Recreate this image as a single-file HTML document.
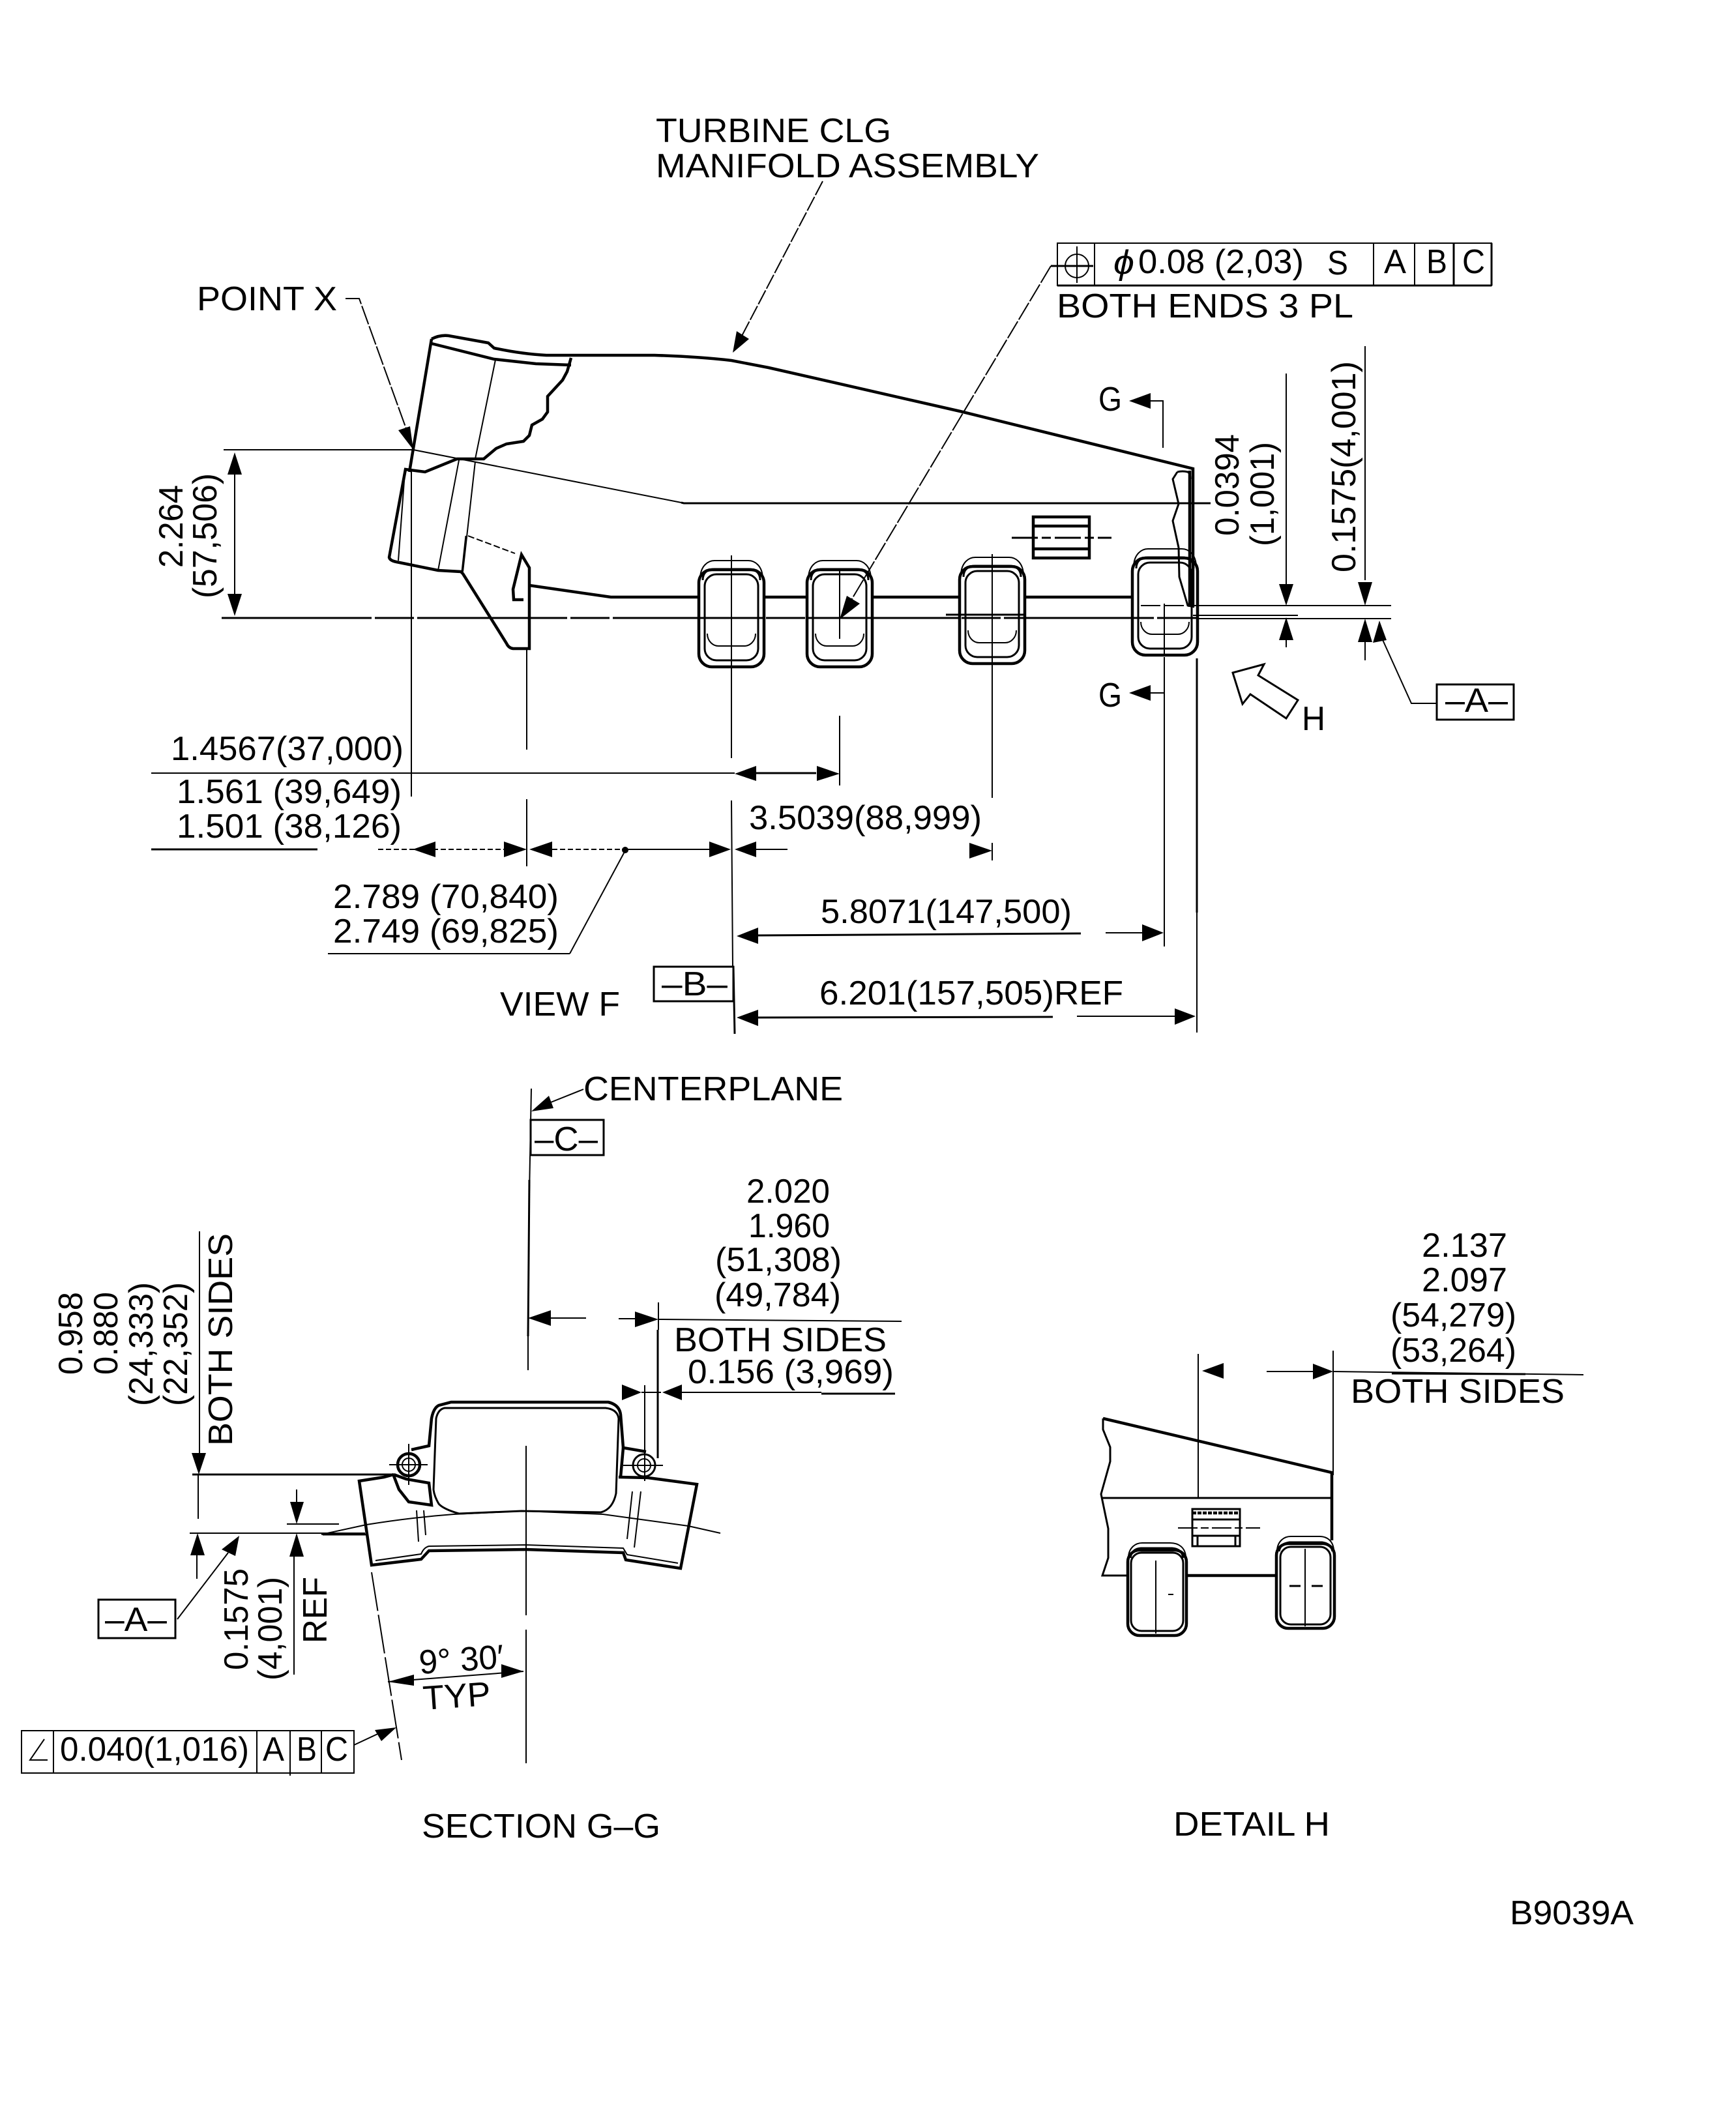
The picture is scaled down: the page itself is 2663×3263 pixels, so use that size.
<!DOCTYPE html>
<html><head><meta charset="utf-8"><title>Turbine CLG Manifold Assembly</title>
<style>
html,body{margin:0;padding:0;background:#fff;width:2663px;height:3263px;overflow:hidden}
svg{display:block}
text{font-family:"Liberation Sans",sans-serif;font-size:52px;fill:#000}
.t{fill:none;stroke:#000;stroke-width:2}
.m{fill:none;stroke:#000;stroke-width:3}
.h{fill:none;stroke:#000;stroke-width:4.5}
.d{stroke-dasharray:14 5}
.c{stroke-dasharray:230 5 60 5}
polygon.a{fill:#000;stroke:none}
</style></head><body>
<svg xmlns="http://www.w3.org/2000/svg" width="2663" height="3263" viewBox="0 0 2663 3263">
<defs>
<g id="pad">
<rect class="h" x="-50" y="14" width="100" height="149" rx="20" fill="#fff"/>
<path class="t" d="M-48,26 C-47,8 -36,0 -26,0 H26 C36,0 47,8 48,26"/>
<path class="m" d="M-44,30 C-44,18 -36,13 -26,13 H26 C36,13 44,18 44,30"/>
<rect class="m" x="-41" y="21" width="82" height="132" rx="18"/>
<path class="t" d="M-37,112 C-37,124 -28,131 -20,131 H20 C28,131 37,124 37,112"/>
</g>
</defs>

<!-- TOP TITLE -->
<text x="1006" y="218" textLength="361" lengthAdjust="spacingAndGlyphs">TURBINE CLG</text>
<text x="1006" y="272" textLength="588" lengthAdjust="spacingAndGlyphs">MANIFOLD ASSEMBLY</text>
<path class="t" stroke-dasharray="24 3" d="M1262,278 L1125,540"/>
<polygon class="a" points="1124,541 1130,508 1149,520"/>

<text x="302" y="476" textLength="215" lengthAdjust="spacingAndGlyphs">POINT X</text>
<path class="t" d="M530,458 H551 L634,688" stroke-dasharray="30 3"/>
<polygon class="a" points="634,690 611,660 629,654"/>

<!-- MAIN VIEW BODY -->
<use href="#pad" x="1122" y="860"/>
<use href="#pad" x="1288" y="860"/>
<use href="#pad" x="1522" y="855"/>
<use href="#pad" x="1787" y="842"/>
<path class="h" d="M662,520 C672,515 680,514 688,515 L749,526 L758,534 Q800,543 838,545 L1004,545 Q1070,547 1122,553 L1179,564 L1473,631 L1830,719 V931"/>
<path class="h" d="M662,520 L628,724"/>
<path class="h" d="M662,527 L758,551 L822,558 L876,560"/>
<path class="h" d="M876,549 L870,570 L863,583 L840,608 L840,632 L832,643 L816,652 L812,668 L803,677 L777,681 L761,688 L742,704 L701,704 L652,724 L622,720 L597,855 Q598,860 608,862 L672,875 L707,877 L710,880 L777,987 Q780,994 787,995 H812 V871 L800,851 L787,904 L788,920 H803"/>
<path class="t" d="M760,552 L729,704 M704,706 L672,875 M729,708 L710,877 M621,724 L611,860"/>
<path class="m" d="M715,822 L709,877"/>
<path class="t" stroke-dasharray="10 4" d="M718,822 L790,849"/>
<path class="h" d="M812,898 L937,916 H1071 M1173,916 H1237 M1339,916 H1473 M1571,916 H1737"/>
<path class="h" d="M1825,722 V931"/>
<path class="m" d="M1806,724 Q1814,722 1822,724 Q1826,726 1826,735 M1806,724 L1799,735 L1808,773 L1799,799 L1808,840 L1809,885 L1822,929 L1832,931"/>

<!-- bracket -->
<rect class="h" x="1585" y="793" width="86" height="63"/>
<path class="h" d="M1585,807 H1671 M1585,842 H1671"/>
<path class="m" stroke-dasharray="40 6 14 6" d="M1552,825 H1705"/>

<!-- centre lines through the body -->
<path class="m c" d="M340,948 H1839"/>
<path class="t" d="M343,690 H634 L1045,771"/>
<path class="m" d="M1045,771 L1049,772 H1857"/>
<path class="m" d="M1451,943 H1571"/>
<path class="t" d="M1830,944 H1991 M1830,929 H2134 M1839,949 H2134"/>
<path class="t" stroke-dasharray="30 6" d="M1750,929 H1830"/>

<!-- 2.264 dim -->
<path class="t" d="M360,720 V920"/>
<polygon class="a" points="360,694 349,728 371,728"/>
<polygon class="a" points="360,945 349,911 371,911"/>
<text transform="translate(280,871) rotate(-90)" textLength="127" lengthAdjust="spacingAndGlyphs">2.264</text>
<text transform="translate(332,918) rotate(-90)" textLength="192" lengthAdjust="spacingAndGlyphs">(57,506)</text>

<!-- feature control frame top -->
<rect class="t" x="1622" y="373" width="666" height="65"/>
<path class="t" d="M1679,373 V438 M2107,373 V438 M2170,373 V438"/>
<path class="m" d="M2230,373 V438 M2288,373 V438 M1622,438 H2288"/>
<circle class="t" cx="1652" cy="408" r="18"/>
<path class="t" d="M1652,378 V434"/>
<path class="m" d="M1612,408 H1677"/>
<text x="1708" y="420" font-style="italic" textLength="32" lengthAdjust="spacingAndGlyphs">ϕ</text>
<text x="1746" y="419" textLength="254" lengthAdjust="spacingAndGlyphs">0.08 (2,03)</text>
<text x="2036" y="421" textLength="32" lengthAdjust="spacingAndGlyphs">S</text>
<text x="2123" y="419" textLength="34" lengthAdjust="spacingAndGlyphs">A</text>
<text x="2188" y="419" textLength="32" lengthAdjust="spacingAndGlyphs">B</text>
<text x="2243" y="419" textLength="35" lengthAdjust="spacingAndGlyphs">C</text>
<text x="1621" y="487" textLength="455" lengthAdjust="spacingAndGlyphs">BOTH ENDS 3 PL</text>
<path class="t" stroke-dasharray="30 3" d="M1612,408 L1290,947"/>
<polygon class="a" points="1288,950 1299,914 1319,926"/>

<!-- G arrows -->
<text x="1685" y="630" textLength="36" lengthAdjust="spacingAndGlyphs">G</text>
<polygon class="a" points="1732,615 1765,603 1765,627"/>
<path class="t" d="M1765,615 H1784 V687"/>
<text x="1685" y="1084" textLength="36" lengthAdjust="spacingAndGlyphs">G</text>
<polygon class="a" points="1732,1063 1765,1051 1765,1075"/>
<path class="t" d="M1765,1063 H1786"/>

<!-- right vertical dims -->
<text transform="translate(1900,822) rotate(-90)" textLength="156" lengthAdjust="spacingAndGlyphs">0.0394</text>
<text transform="translate(1954,838) rotate(-90)" textLength="160" lengthAdjust="spacingAndGlyphs">(1,001)</text>
<text transform="translate(2079,878) rotate(-90)" textLength="324" lengthAdjust="spacingAndGlyphs">0.1575(4,001)</text>
<path class="t" d="M1973,573 V905 M1973,970 V993 M2094,531 V890 M2094,970 V1013"/>
<polygon class="a" points="1973,929 1962,896 1984,896"/>
<polygon class="a" points="1973,947 1962,982 1984,982"/>
<polygon class="a" points="2094,929 2083,893 2105,893"/>
<polygon class="a" points="2094,949 2083,985 2105,985"/>
<polygon class="a" points="2116,952 2106,986 2127,982"/>
<path class="t" d="M2118,975 L2165,1079 H2204"/>
<rect class="m" x="2204" y="1050" width="118" height="54"/>
<text x="2217" y="1092" textLength="96" lengthAdjust="spacingAndGlyphs">–A–</text>

<!-- H arrow -->
<polygon class="m" points="1891,1032 1939,1019 1930,1036 1991,1074 1973,1102 1918,1065 1906,1080"/>
<text x="1997" y="1120" textLength="36" lengthAdjust="spacingAndGlyphs">H</text>

<!-- extension lines -->
<path class="t" d="M631,720 V1222"/>
<path class="t" d="M808,996 V1150 M808,1226 V1329"/>
<path class="t" d="M1122,852 V1163 M1122,1228 L1124,1482"/>
<path class="m" d="M1125,1482 L1127,1586"/>
<path class="t" d="M1288,872 V980 M1288,1098 V1205"/>
<path class="t" d="M1522,850 V1224 M1522,1293 V1320"/>
<path class="t" d="M1786,926 V1005 M1786,1008 V1452"/>
<path class="m" d="M1836,1010 V1400"/>
<path class="t" d="M1836,1400 V1584"/>

<!-- lower dims main view -->
<text x="262" y="1166" textLength="357" lengthAdjust="spacingAndGlyphs">1.4567(37,000)</text>
<path class="t" d="M232,1186 H1127"/>
<path class="m" d="M1160,1186 H1252"/>
<polygon class="a" points="1127,1187 1160,1175 1160,1198"/>
<polygon class="a" points="1288,1187 1253,1175 1253,1198"/>
<text x="271" y="1232" textLength="345" lengthAdjust="spacingAndGlyphs">1.561 (39,649)</text>
<text x="271" y="1285" textLength="345" lengthAdjust="spacingAndGlyphs">1.501 (38,126)</text>
<path class="m" d="M232,1303 H487"/>
<path class="t" stroke-dasharray="8 4" d="M580,1303 H775 M847,1303 H954"/>
<path class="t" d="M954,1303 H1089 M1160,1303 H1208"/>
<polygon class="a" points="633,1303 668,1291 668,1315"/>
<polygon class="a" points="808,1303 773,1291 773,1315"/>
<polygon class="a" points="812,1303 847,1291 847,1315"/>
<polygon class="a" points="1121,1303 1088,1291 1088,1315"/>
<polygon class="a" points="1127,1303 1160,1291 1160,1315"/>
<polygon class="a" points="1522,1305 1487,1293 1487,1317"/>
<text x="1149" y="1272" textLength="357" lengthAdjust="spacingAndGlyphs">3.5039(88,999)</text>
<circle cx="959" cy="1304" r="5" fill="#000"/>
<path class="t" d="M959,1305 L874,1463"/>
<path class="t" d="M874,1463 H503"/>
<text x="511" y="1393" textLength="346" lengthAdjust="spacingAndGlyphs">2.789 (70,840)</text>
<text x="511" y="1446" textLength="346" lengthAdjust="spacingAndGlyphs">2.749 (69,825)</text>
<text x="1259" y="1416" textLength="385" lengthAdjust="spacingAndGlyphs">5.8071(147,500)</text>
<path class="m" d="M1160,1435 L1658,1432"/>
<path class="t" d="M1696,1431 H1755"/>
<polygon class="a" points="1130,1436 1163,1423 1163,1448"/>
<polygon class="a" points="1785,1431 1752,1418 1752,1444"/>
<rect class="m" x="1003" y="1483" width="122" height="53"/>
<text x="1015" y="1527" textLength="101" lengthAdjust="spacingAndGlyphs">–B–</text>
<text x="767" y="1558" textLength="184" lengthAdjust="spacingAndGlyphs">VIEW F</text>
<text x="1257" y="1541" textLength="466" lengthAdjust="spacingAndGlyphs">6.201(157,505)REF</text>
<path class="m" d="M1160,1561 L1615,1560"/>
<path class="t" d="M1652,1559 H1805"/>
<polygon class="a" points="1130,1561 1163,1549 1163,1574"/>
<polygon class="a" points="1834,1559 1802,1547 1802,1572"/>

<!-- SECTION G-G header -->
<text x="895" y="1688" textLength="398" lengthAdjust="spacingAndGlyphs">CENTERPLANE</text>
<path class="t" d="M895,1671 L840,1693"/>
<polygon class="a" points="815,1705 842,1681 849,1700"/>
<path class="t" d="M815,1670 L812,1830"/>
<path class="m" d="M812,1810 L810,2050"/>
<path class="t" d="M810,2050 V2102 M807,2218 V2478 M807,2500 V2705"/>
<rect class="m" x="814" y="1718" width="112" height="54"/>
<text x="820" y="1765" textLength="97" lengthAdjust="spacingAndGlyphs">–C–</text>
<text x="1145" y="1845" textLength="128" lengthAdjust="spacingAndGlyphs">2.020</text>
<text x="1148" y="1898" textLength="125" lengthAdjust="spacingAndGlyphs">1.960</text>
<text x="1097" y="1950" textLength="194" lengthAdjust="spacingAndGlyphs">(51,308)</text>
<text x="1096" y="2004" textLength="194" lengthAdjust="spacingAndGlyphs">(49,784)</text>
<text x="1034" y="2073" textLength="326" lengthAdjust="spacingAndGlyphs">BOTH SIDES</text>
<text x="1055" y="2122" textLength="316" lengthAdjust="spacingAndGlyphs">0.156 (3,969)</text>
<path class="t" d="M845,2022 H899 M949,2023 H974"/>
<polygon class="a" points="810,2022 845,2010 845,2034"/>
<polygon class="a" points="1010,2024 974,2012 974,2036"/>
<path class="t" d="M1010,2024 L1383,2027"/>
<path class="t" d="M1010,1998 V2040"/>
<path class="m" d="M1009,2040 V2237"/>
<path class="t" d="M989,2125 V2272"/>
<polygon class="a" points="984,2136 954,2124 954,2148"/>
<polygon class="a" points="1016,2136 1046,2124 1046,2148"/>
<path class="t" d="M984,2136 H1014"/>
<path class="t" d="M1046,2136 H1260"/>
<path class="m" d="M1260,2138 H1373"/>

<!-- SECTION SHAPE -->
<path class="h" d="M631,2224 L658,2218 L662,2176 Q665,2160 673,2156 L692,2151 H933 Q950,2155 952,2170 L956,2221 L991,2227"/>
<path class="m" d="M669,2176 Q672,2162 682,2160 H929 Q947,2162 949,2176 L945,2291 Q940,2315 922,2320 L800,2318 L704,2322 Q680,2315 673,2307 Q666,2295 665,2285 Z"/>
<path class="h" d="M956,2221 L952,2266 L949,2266 L994,2267 L1069,2277 L1044,2406 L960,2393 L956,2382 L807,2377 L658,2379 L646,2392 L570,2401 L551,2272 L589,2266 L604,2262"/>
<path class="t" d="M576,2394 L646,2384 Q650,2374 658,2372 L807,2370 L956,2375 L962,2385 L1040,2398"/>
<path class="h" d="M604,2264 L612,2285 L627,2304 L662,2309 L658,2275 L623,2269 L604,2262"/>
<circle class="h" cx="627" cy="2247" r="17" fill="#fff"/>
<circle class="t" cx="627" cy="2247" r="10"/>
<path class="t" d="M627,2215 V2278 M597,2247 H656"/>
<circle class="m" cx="988" cy="2248" r="17" fill="#fff"/>
<circle class="t" cx="988" cy="2248" r="10"/>
<path class="t" d="M956,2248 H1017 M989,2215 V2272"/>
<path class="t" d="M493,2354 L562,2339 Q630,2328 696,2323 L803,2318 L925,2323 L1056,2341 L1105,2352"/>
<path class="t" d="M639,2317 L642,2365 M650,2317 L653,2355 M970,2288 L962,2361 M983,2288 L973,2374"/>

<!-- section left dims -->
<text transform="translate(126,2109) rotate(-90)" textLength="127" lengthAdjust="spacingAndGlyphs">0.958</text>
<text transform="translate(180,2109) rotate(-90)" textLength="127" lengthAdjust="spacingAndGlyphs">0.880</text>
<text transform="translate(234,2157) rotate(-90)" textLength="190" lengthAdjust="spacingAndGlyphs">(24,333)</text>
<text transform="translate(287,2157) rotate(-90)" textLength="190" lengthAdjust="spacingAndGlyphs">(22,352)</text>
<text transform="translate(356,2218) rotate(-90)" textLength="326" lengthAdjust="spacingAndGlyphs">BOTH SIDES</text>
<path class="t" d="M306,1889 V2230"/>
<polygon class="a" points="305,2262 294,2229 316,2229"/>
<path class="m" d="M295,2262 H604"/>
<path class="t" d="M304,2262 V2330"/>
<path class="t" d="M291,2352 H560"/>
<path class="m" d="M495,2354 H562"/>
<polygon class="a" points="303,2352 292,2386 314,2386"/>
<path class="t" d="M302,2386 V2422"/>
<path class="t" d="M440,2338 H520 M455,2285 V2310"/>
<polygon class="a" points="455,2338 445,2304 466,2304"/>
<polygon class="a" points="455,2352 444,2388 466,2388"/>
<path class="t" d="M451,2388 V2569"/>
<polygon class="a" points="367,2356 340,2377 361,2387"/>
<path class="t" d="M350,2382 L272,2484"/>
<rect class="m" x="151" y="2454" width="118" height="59"/>
<text x="161" y="2502" textLength="95" lengthAdjust="spacingAndGlyphs">–A–</text>
<text transform="translate(380,2562) rotate(-90)" textLength="156" lengthAdjust="spacingAndGlyphs">0.1575</text>
<text transform="translate(432,2578) rotate(-90)" textLength="159" lengthAdjust="spacingAndGlyphs">(4,001)</text>
<text transform="translate(501,2521) rotate(-90)" textLength="102" lengthAdjust="spacingAndGlyphs">REF</text>

<!-- angle dim -->
<path class="t" stroke-dasharray="60 6" d="M570,2412 L616,2700"/>
<path class="t" d="M595,2580 L803,2564"/>
<polygon class="a" points="595,2580 635,2569 635,2586"/>
<polygon class="a" points="803,2564 769,2553 769,2574"/>
<text transform="translate(644,2568) rotate(-4)" textLength="130" lengthAdjust="spacingAndGlyphs">9° 30′</text>
<text transform="translate(650,2623) rotate(-4)" textLength="104" lengthAdjust="spacingAndGlyphs">TYP</text>
<rect class="t" x="33" y="2655" width="510" height="65"/>
<path class="t" d="M82,2655 V2720 M394,2655 V2720 M445,2655 V2724 M493,2655 V2720"/>
<path class="t" d="M68,2668 L46,2700 H73"/>
<text x="92" y="2701" textLength="290" lengthAdjust="spacingAndGlyphs">0.040(1,016)</text>
<text x="403" y="2701" textLength="33" lengthAdjust="spacingAndGlyphs">A</text>
<text x="455" y="2701" textLength="31" lengthAdjust="spacingAndGlyphs">B</text>
<text x="499" y="2701" textLength="35" lengthAdjust="spacingAndGlyphs">C</text>
<path class="t" d="M543,2677 L590,2655"/>
<polygon class="a" points="608,2650 575,2654 585,2671"/>

<!-- DETAIL H -->
<text x="2181" y="1928" textLength="131" lengthAdjust="spacingAndGlyphs">2.137</text>
<text x="2181" y="1981" textLength="131" lengthAdjust="spacingAndGlyphs">2.097</text>
<text x="2133" y="2035" textLength="193" lengthAdjust="spacingAndGlyphs">(54,279)</text>
<text x="2133" y="2089" textLength="193" lengthAdjust="spacingAndGlyphs">(53,264)</text>
<text x="2072" y="2152" textLength="328" lengthAdjust="spacingAndGlyphs">BOTH SIDES</text>
<path class="t" d="M1838,2077 V2298 M2045,2072 V2263"/>
<polygon class="a" points="1844,2103 1877,2091 1877,2115"/>
<polygon class="a" points="2045,2104 2014,2092 2014,2116"/>
<path class="t" d="M1943,2104 H2014"/>
<path class="t" d="M2045,2104 L2429,2109"/>
<path class="m" d="M2135,2107 L2340,2108"/>
<path class="h" d="M1692,2176 L2043,2259 V2363"/>
<path class="m" d="M1692,2176 V2193 L1703,2220 L1703,2242 L1689,2292 L1700,2345 L1700,2390 L1691,2417 H1729"/>
<path class="m" d="M1689,2298 H2043"/>
<rect class="m" x="1829" y="2315" width="73" height="57"/>
<path class="h" stroke-dasharray="6 2" d="M1829,2321 H1902"/>
<path class="m" d="M1829,2331 H1902 M1829,2356 H1902 M1837,2356 V2372 M1895,2356 V2372"/>
<path class="t" stroke-dasharray="30 5 12 5" d="M1807,2344 H1933"/>
<path class="h" d="M1820,2417 H1957"/>
<!-- detail pads -->
<rect class="h" x="1730" y="2378" width="90" height="131" rx="18"/>
<path class="t" d="M1731,2388 C1732,2374 1742,2367 1752,2367 H1795 C1808,2367 1818,2374 1819,2388"/>
<path class="m" d="M1734,2390 Q1736,2376 1750,2375 H1798 Q1813,2376 1815,2390"/>
<rect class="m" x="1735" y="2382" width="80" height="120" rx="16"/>
<path class="t" d="M1773,2394 V2506 M1792,2446 H1800"/>
<rect class="h" x="1958" y="2368" width="89" height="130" rx="18"/>
<path class="t" d="M1959,2378 C1960,2364 1970,2357 1980,2357 H2024 C2036,2357 2045,2364 2046,2378"/>
<path class="m" d="M1962,2380 Q1964,2368 1978,2366 H2028 Q2042,2368 2044,2380"/>
<rect class="m" x="1964" y="2373" width="77" height="119" rx="16"/>
<path class="t" d="M2002,2376 V2495"/>
<path class="m" d="M1978,2433 H1995 M2012,2433 H2029"/>

<!-- captions -->
<text x="647" y="2819" textLength="366" lengthAdjust="spacingAndGlyphs">SECTION G–G</text>
<text x="1800" y="2816" textLength="240" lengthAdjust="spacingAndGlyphs">DETAIL H</text>
<text x="2316" y="2952" textLength="190" lengthAdjust="spacingAndGlyphs">B9039A</text>
</svg>
</body></html>
